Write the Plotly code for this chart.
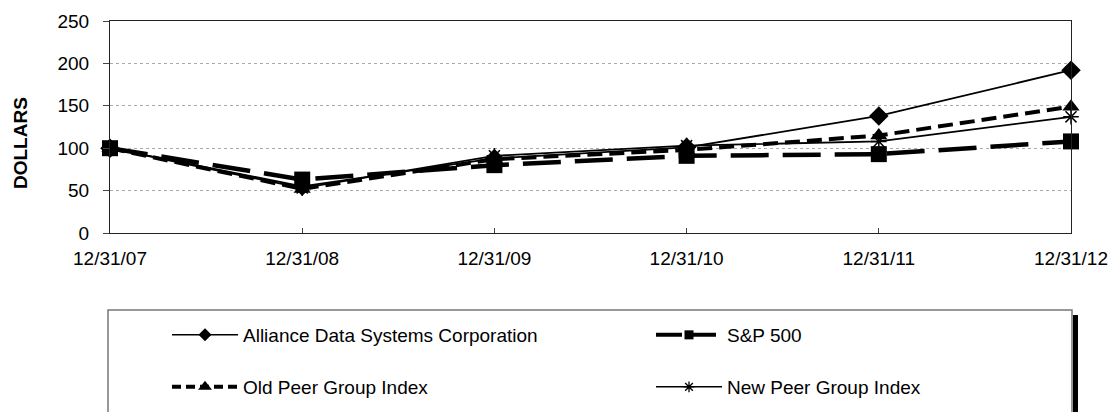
import plotly.graph_objects as go

dates = ["12/31/07", "12/31/08", "12/31/09", "12/31/10", "12/31/11", "12/31/12"]
ads = [100, 55, 88, 101, 138, 192]
sp500 = [100, 63, 80, 91, 93, 108]
old_peer = [100, 52, 87, 98, 115, 149]
new_peer = [100, 53, 91, 103, 108, 137]
y_ticks = [0, 50, 100, 150, 200, 250]
names = ["Alliance Data Systems Corporation", "S&P 500", "Old Peer Group Index", "New Peer Group Index"]

W, H = 1112, 412
L, R, T, B = 110, 41, 21, 179
PW, PH = W - L - R, H - T - B

def px_x(x):
    return (x - L) / PW

def px_y(y):
    return (H - B - y) / PH

FONT = "Liberation Sans, Arial, sans-serif"

styles = [
    dict(line=dict(color="black", width=1.8), marker=dict(symbol="diamond", size=15, color="black")),
    dict(line=dict(color="black", width=4.5, dash="38px,14px"), marker=dict(symbol="square", size=16, color="black")),
    dict(line=dict(color="black", width=4, dash="15px,7px"), marker=dict(symbol="triangle-up", size=15, color="black")),
    dict(line=dict(color="black", width=1.8),
         marker=dict(symbol="asterisk-open", size=13, color="black", line=dict(width=1.5, color="black"))),
]
leg_styles = [
    dict(line=dict(color="black", width=1.5), marker=dict(symbol="diamond", size=10, color="black")),
    dict(line=dict(color="black", width=4, dash="26px,8px"), marker=dict(symbol="square", size=9, color="black")),
    dict(line=dict(color="black", width=4, dash="9px,5px"), marker=dict(symbol="triangle-up", size=12, color="black")),
    dict(line=dict(color="black", width=1.5),
         marker=dict(symbol="asterisk-open", size=9, color="black", line=dict(width=1.3, color="black"))),
]
series = [ads, sp500, old_peer, new_peer]
legends = ["legend", "legend2", "legend3", "legend4"]

fig = go.Figure()
for name, vals, st in zip(names, series, styles):
    fig.add_trace(go.Scatter(x=dates, y=vals, name=name, mode="lines+markers",
                             cliponaxis=False, showlegend=False, **st))
for name, st, lg in zip(names, leg_styles, legends):
    fig.add_trace(go.Scatter(x=[None], y=[None], name=name, mode="lines+markers",
                             showlegend=True, legend=lg, **st))

# Legend frame and dark bar at the right
fig.add_shape(type="rect", xref="paper", yref="paper",
              x0=px_x(108), x1=px_x(1072), y0=px_y(430), y1=px_y(310),
              line=dict(color="#777", width=1.5), fillcolor="rgba(0,0,0,0)", layer="below")
fig.add_shape(type="rect", xref="paper", yref="paper",
              x0=px_x(1073), x1=px_x(1078), y0=px_y(430), y1=px_y(315),
              line=dict(width=0), fillcolor="black")

fig.add_annotation(text="<b>DOLLARS</b>", xref="paper", yref="paper",
                   x=px_x(20), y=px_y(143), textangle=-90, showarrow=False,
                   xanchor="center", yanchor="middle",
                   font=dict(family=FONT, size=19, color="black"))

leg_common = dict(orientation="v", itemwidth=66,
                  font=dict(family=FONT, size=19, color="black"),
                  bgcolor="rgba(0,0,0,0)", borderwidth=0,
                  xanchor="left", yanchor="middle")

fig.update_layout(
    width=W, height=H,
    margin=dict(l=L, r=R, t=T, b=B, autoexpand=False),
    paper_bgcolor="white", plot_bgcolor="white",
    font=dict(family=FONT, size=19, color="black"),
    showlegend=True,
    legend=dict(x=px_x(167), y=px_y(335), **leg_common),
    legend2=dict(x=px_x(651), y=px_y(335), **leg_common),
    legend3=dict(x=px_x(167), y=px_y(387), **leg_common),
    legend4=dict(x=px_x(651), y=px_y(387), **leg_common),
    xaxis=dict(type="category", range=[0, len(dates) - 1], automargin=False,
               showline=True, linecolor="#222", linewidth=1.2, mirror=True,
               ticks="inside", ticklen=5, tickcolor="#444", showgrid=False,
               tickfont=dict(family=FONT, size=19, color="black"),
               ticklabelstandoff=8, zeroline=False),
    yaxis=dict(range=[0, 250], tickvals=y_ticks, ticktext=[str(v) for v in y_ticks],
               automargin=False,
               showline=True, linecolor="#222", linewidth=1.2, mirror=True,
               ticks="outside", ticklen=6, tickcolor="#444",
               showgrid=True, gridcolor="#aaa", gridwidth=1, griddash="dot",
               tickfont=dict(family=FONT, size=19, color="black"),
               ticklabelstandoff=10, zeroline=False),
)

fig.write_html("out.html", config={"displayModeBar": False},
               post_script="document.body.style.margin='0';document.body.style.overflow='hidden';")
